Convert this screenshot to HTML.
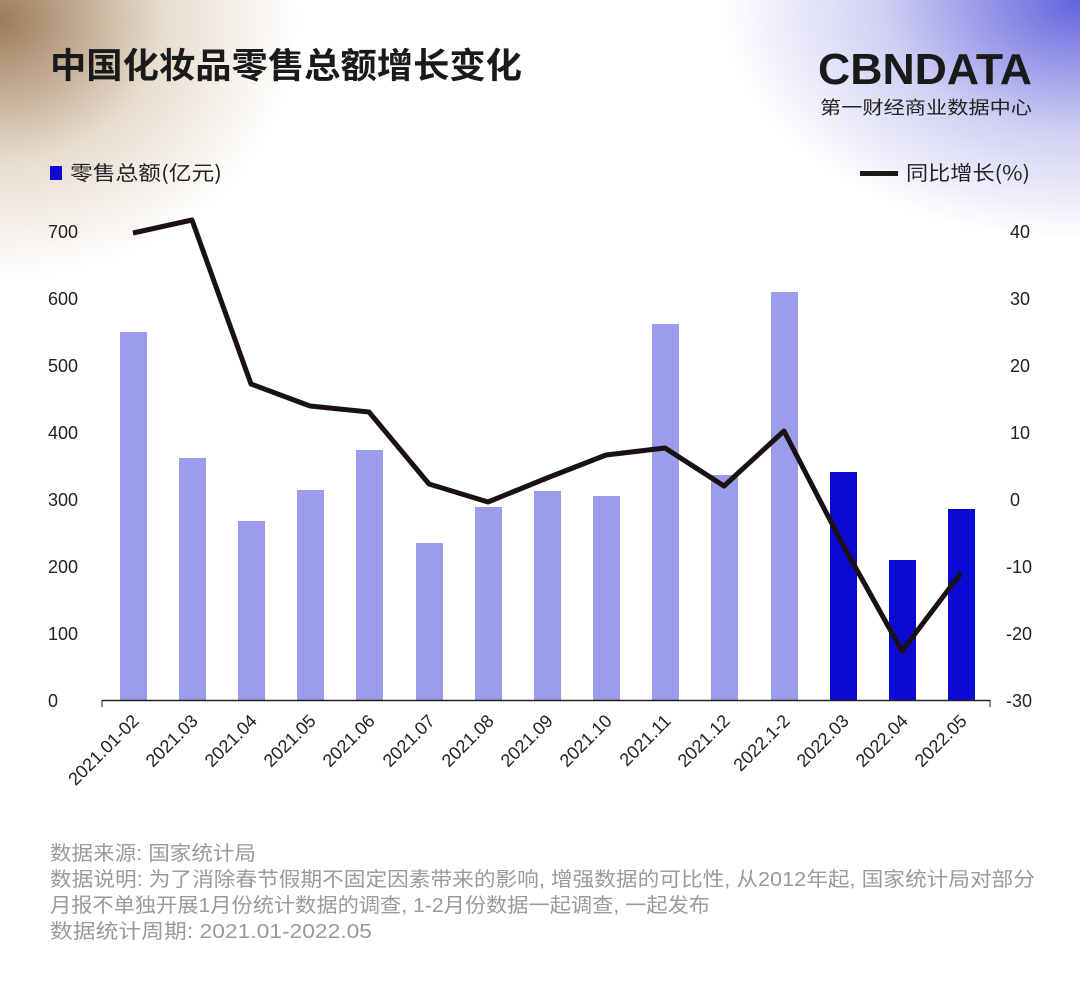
<!DOCTYPE html>
<html><head><meta charset="utf-8"><style>
html,body{margin:0;padding:0;}
body{width:1080px;height:988px;overflow:hidden;position:relative;background:#fff;font-family:"Liberation Sans","Noto Sans CJK SC",sans-serif;}
.bg{position:absolute;inset:0;background:
radial-gradient(ellipse 300px 260px at 0px 20px, rgba(140,100,60,0.85), rgba(190,160,120,0.35) 55%, rgba(255,255,255,0) 100%),
radial-gradient(ellipse 360px 240px at 1080px 0px, rgba(90,90,220,0.95), rgba(150,150,230,0.45) 55%, rgba(255,255,255,0) 100%);}
svg{position:absolute;left:0;top:0;}
</style></head><body>
<div class="bg"></div>
<svg width="1080" height="988" viewBox="0 0 1080 988">
<g font-family="Liberation Sans, Noto Sans CJK SC, sans-serif">
<text x="50" y="78" font-size="35" font-weight="bold" fill="#1a1a1a" font-family="Noto Sans CJK SC, sans-serif" textLength="472" lengthAdjust="spacingAndGlyphs">中国化妆品零售总额增长变化</text>
<text x="818" y="84" font-size="44" font-weight="bold" fill="#1a1a1a" textLength="214" lengthAdjust="spacingAndGlyphs">CBNDATA</text>
<text x="820" y="114" font-size="18" fill="#222" font-family="Noto Sans CJK SC, sans-serif" textLength="212" lengthAdjust="spacingAndGlyphs">第一财经商业数据中心</text>
<rect x="50" y="166" width="12" height="14" fill="#0a0ad0"/>
<text x="70" y="180" font-size="20" fill="#222" font-family="Noto Sans CJK SC, sans-serif" textLength="152" lengthAdjust="spacingAndGlyphs">零售总额(亿元)</text>
<rect x="860" y="171" width="38" height="5" fill="#1a1a1a"/>
<text x="906" y="180" font-size="20" fill="#222" font-family="Noto Sans CJK SC, sans-serif" textLength="124" lengthAdjust="spacingAndGlyphs">同比增长(%)</text>
<g font-size="18" fill="#222">
<text x="48" y="238">700</text><text x="48" y="305">600</text><text x="48" y="372">500</text><text x="48" y="439">400</text><text x="48" y="506">300</text><text x="48" y="573">200</text><text x="48" y="640">100</text><text x="48" y="707">0</text>
<text x="1010" y="238">40</text><text x="1010" y="305">30</text><text x="1010" y="372">20</text><text x="1010" y="439">10</text><text x="1010" y="506">0</text><text x="1006" y="573">-10</text><text x="1006" y="640">-20</text><text x="1006" y="707">-30</text>
</g>
<g fill="#9b9dea">
<rect x="120" y="332" width="27" height="368"/>
<rect x="179" y="458" width="27" height="242"/>
<rect x="238" y="521" width="27" height="179"/>
<rect x="297" y="490" width="27" height="210"/>
<rect x="356" y="450" width="27" height="250"/>
<rect x="416" y="543" width="27" height="157"/>
<rect x="475" y="507" width="27" height="193"/>
<rect x="534" y="491" width="27" height="209"/>
<rect x="593" y="496" width="27" height="204"/>
<rect x="652" y="324" width="27" height="376"/>
<rect x="711" y="475" width="27" height="225"/>
<rect x="771" y="292" width="27" height="408"/>
</g>
<g fill="#0a0ad0">
<rect x="830" y="472" width="27" height="228"/>
<rect x="889" y="560" width="27" height="140"/>
<rect x="948" y="509" width="27" height="191"/>
</g>
<line x1="102" y1="700.5" x2="990" y2="700.5" stroke="#222" stroke-width="1.5"/>
<line x1="102" y1="700" x2="102" y2="707" stroke="#222"/>
<line x1="990" y1="700" x2="990" y2="707" stroke="#222"/>
<polyline fill="none" stroke="#1a1212" stroke-width="5" stroke-linejoin="round" points="133,233 192,220 251,384 310,406 369,412 429,484 488,502 547,478 606,455 665,448 724,486 784,431 843,545 902,651 961,573"/>
<g font-size="18" fill="#222" text-anchor="end">
<text transform="translate(140,722) rotate(-45)">2021.01-02</text>
<text transform="translate(199,722) rotate(-45)">2021.03</text>
<text transform="translate(258,722) rotate(-45)">2021.04</text>
<text transform="translate(317,722) rotate(-45)">2021.05</text>
<text transform="translate(376,722) rotate(-45)">2021.06</text>
<text transform="translate(436,722) rotate(-45)">2021.07</text>
<text transform="translate(495,722) rotate(-45)">2021.08</text>
<text transform="translate(554,722) rotate(-45)">2021.09</text>
<text transform="translate(613,722) rotate(-45)">2021.10</text>
<text transform="translate(672,722) rotate(-45)">2021.11</text>
<text transform="translate(731,722) rotate(-45)">2021.12</text>
<text transform="translate(791,722) rotate(-45)">2022.1-2</text>
<text transform="translate(850,722) rotate(-45)">2022.03</text>
<text transform="translate(909,722) rotate(-45)">2022.04</text>
<text transform="translate(968,722) rotate(-45)">2022.05</text>
</g>
<g font-size="20" fill="#9a9a9a" font-family="Liberation Sans, Noto Sans CJK SC, sans-serif">
<text x="50" y="860" textLength="206" lengthAdjust="spacingAndGlyphs">数据来源: 国家统计局</text>
<text x="50" y="886" textLength="985" lengthAdjust="spacingAndGlyphs">数据说明: 为了消除春节假期不固定因素带来的影响, 增强数据的可比性, 从2012年起, 国家统计局对部分</text>
<text x="50" y="912" textLength="660" lengthAdjust="spacingAndGlyphs">月报不单独开展1月份统计数据的调查, 1-2月份数据一起调查, 一起发布</text>
<text x="50" y="938" textLength="322" lengthAdjust="spacingAndGlyphs">数据统计周期: 2021.01-2022.05</text>
</g>
</g>
</svg>
</body></html>
